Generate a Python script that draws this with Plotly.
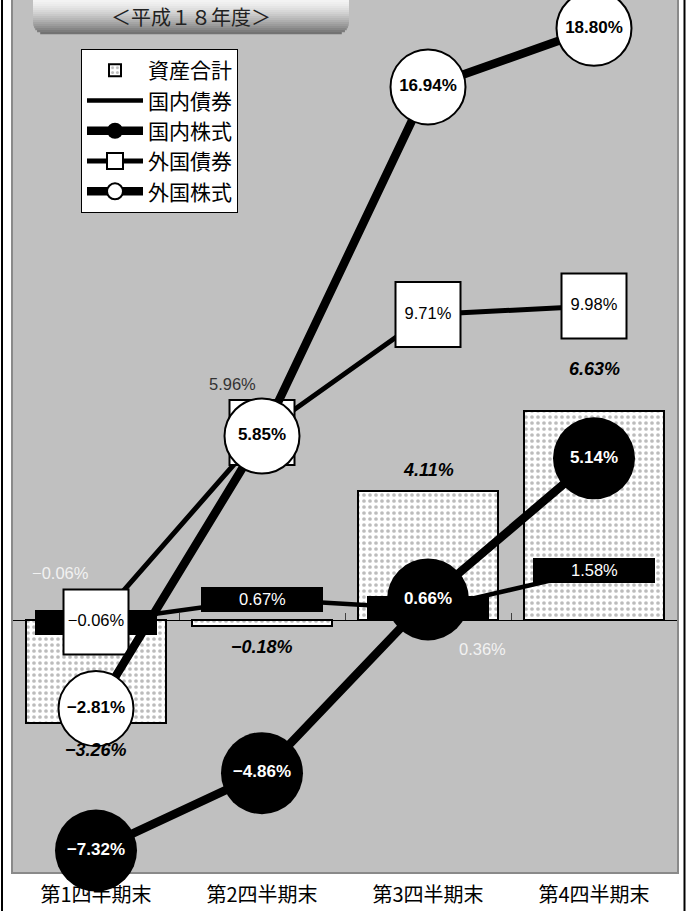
import math
import plotly.graph_objects as go

# ---------------- data ----------------
categories = ["第1四半期末", "第2四半期末", "第3四半期末", "第4四半期末"]
total_assets = [-3.26, -0.18, 4.11, 6.63]      # 資産合計
dom_bonds = [-0.06, 0.67, 0.36, 1.58]          # 国内債券
dom_stocks = [-7.32, -4.86, 0.66, 5.14]        # 国内株式
for_bonds = [-0.06, 5.96, 9.71, 9.98]          # 外国債券
for_stocks = [-2.81, 5.85, 16.94, 18.80]       # 外国株式
series_names = ["資産合計", "国内債券", "国内株式", "外国債券", "外国株式"]
title_text = "＜平成１８年度＞"

# ---------------- style ----------------
W, H = 687, 911
ML, MR, MT, MB = 13, 10, 0, 39
PW, PH = W - ML - MR, H - MT - MB
Y_MIN, Y_MAX = -8.0, 19.7
PXU = PH / (Y_MAX - Y_MIN)          # pixels per data unit

NUM = "Liberation Sans, Arial, sans-serif"
JP = "Noto Sans CJK JP, Noto Sans CJK SC, sans-serif"
BG = "#c0c0c0"


def pct(v):
    return ("−" if v < 0 else "") + f"{abs(v):.2f}%"


def px2x(px):
    return (px - ML) / PW


def py2y(py):
    return (H - MB - py) / PH


fig = go.Figure()

# 資産合計 bars
fig.add_trace(go.Bar(
    x=categories, y=total_assets, name=series_names[0], width=0.84,
    marker=dict(color="white", line=dict(color="black", width=2),
                pattern=dict(shape=".", fgcolor="#7a7a7a", bgcolor="white",
                             size=6, solidity=0.3)),
    legendrank=1, legendgroup="g1", hoverinfo="skip"))

# black label boxes for 国内債券
box_h = 25 / PXU
fig.add_trace(go.Bar(
    x=categories, y=[box_h] * len(dom_bonds),
    base=[v - box_h / 2 for v in dom_bonds], width=0.735,
    marker=dict(color="black", line=dict(width=0)),
    showlegend=False, legendgroup="g2", hoverinfo="skip"))

# 国内債券 line
fig.add_trace(go.Scatter(
    x=categories, y=dom_bonds, mode="lines", name=series_names[1],
    line=dict(color="black", width=4.5), cliponaxis=False,
    legendrank=2, legendgroup="g2", hoverinfo="skip"))

# 国内株式
fig.add_trace(go.Scatter(
    x=categories, y=dom_stocks, mode="lines+markers", name=series_names[2],
    line=dict(color="black", width=8.5),
    marker=dict(symbol="circle", size=82, color="black", line=dict(width=0)),
    cliponaxis=False, legendrank=3, legendgroup="g3", hoverinfo="skip"))
fig.add_trace(go.Scatter(
    x=categories, y=dom_stocks, mode="text", text=[pct(v) for v in dom_stocks],
    textposition="middle center",
    textfont=dict(family=NUM, size=17, color="white", weight="bold"),
    cliponaxis=False, showlegend=False, legendgroup="g3", hoverinfo="skip"))

# 外国債券
fig.add_trace(go.Scatter(
    x=categories, y=for_bonds, mode="lines+markers", name=series_names[3],
    line=dict(color="black", width=5),
    marker=dict(symbol="square", size=65, color="white",
                line=dict(color="black", width=2)),
    cliponaxis=False, legendrank=4, legendgroup="g4", hoverinfo="skip"))
fb_inside = [pct(v) for v in for_bonds]
fb_inside[1] = ""   # hidden behind the 外国株式 circle; shown as annotation
fig.add_trace(go.Scatter(
    x=categories, y=for_bonds, mode="text", text=fb_inside,
    textposition="middle center",
    textfont=dict(family=NUM, size=16.5, color="black"),
    cliponaxis=False, showlegend=False, legendgroup="g4", hoverinfo="skip"))

# 外国株式
fig.add_trace(go.Scatter(
    x=categories, y=for_stocks, mode="lines+markers", name=series_names[4],
    line=dict(color="black", width=8.5),
    marker=dict(symbol="circle", size=75, color="white",
                line=dict(color="black", width=2)),
    cliponaxis=False, legendrank=5, legendgroup="g5", hoverinfo="skip"))
fig.add_trace(go.Scatter(
    x=categories, y=for_stocks, mode="text", text=[pct(v) for v in for_stocks],
    textposition="middle center",
    textfont=dict(family=NUM, size=17, color="black", weight="bold"),
    cliponaxis=False, showlegend=False, legendgroup="g5", hoverinfo="skip"))

# empty trace carrying the zero-line axis
fig.add_trace(go.Scatter(x=[], y=[], xaxis="x2", showlegend=False,
                         hoverinfo="skip"))

annotations = []
# 資産合計 labels
ta_shift = [-27, -21, 21, 42]
for c, v, s in zip(categories, total_assets, ta_shift):
    annotations.append(dict(
        x=c, y=v, text=pct(v), showarrow=False, yshift=s,
        font=dict(family=NUM, size=18, color="black", weight="bold",
                  style="italic")))
# 国内債券 labels
db_shift = [(-36, 49, "#f2f2f2"), (0, 0, "white"), (54, -40, "#f2f2f2"),
            (0, 0, "white")]
for c, v, (xs, ys, col) in zip(categories, dom_bonds, db_shift):
    annotations.append(dict(
        x=c, y=v, text=pct(v), showarrow=False, xshift=xs, yshift=ys,
        font=dict(family=NUM, size=16.5, color=col)))
# 外国債券 Q2 label
annotations.append(dict(
    x=categories[1], y=for_bonds[1], text=pct(for_bonds[1]), showarrow=False,
    xshift=-30, yshift=49, font=dict(family=NUM, size=16.5, color="#333333")))
# title
annotations.append(dict(
    xref="paper", yref="paper", x=px2x(191), y=py2y(16), text=title_text,
    xanchor="center", yanchor="middle",
    showarrow=False, font=dict(family=JP, size=20, color="#222222")))

shapes = []
# title box gradient with rounded bottom corners
TB_X0, TB_X1, TB_Y1, R = 33, 349, 34, 12
step = 2
for i in range(TB_Y1 // step):
    ya, yb = i * step, (i + 1) * step
    ym = (ya + yb) / 2
    inset = 0.0
    if ym > TB_Y1 - R:
        d = ym - (TB_Y1 - R)
        inset = R - math.sqrt(max(R * R - d * d, 0))
    t = ym / TB_Y1
    g = int(round(244 - (244 - 108) * t ** 1.4))
    col = f"rgb({g},{g},{g})"
    shapes.append(dict(type="rect", xref="paper", yref="paper",
                       x0=px2x(TB_X0 + inset), x1=px2x(TB_X1 - inset),
                       y0=py2y(yb + 0.3), y1=py2y(ya),
                       fillcolor=col, line=dict(width=0)))
# outer frame
for xp in (2, 684.5):
    shapes.append(dict(type="line", xref="paper", yref="paper",
                       x0=px2x(xp), x1=px2x(xp), y0=py2y(H), y1=1.0,
                       line=dict(color="black", width=2)))

zero_pos = (0 - Y_MIN) / (Y_MAX - Y_MIN)

fig.update_layout(
    width=W, height=H,
    margin=dict(l=ML, r=MR, t=MT, b=MB, autoexpand=False),
    paper_bgcolor="white", plot_bgcolor=BG,
    barmode="overlay", bargap=0,
    font=dict(family=JP, color="black"),
    showlegend=True,
    legend=dict(x=px2x(81), y=py2y(49), xanchor="left", yanchor="top",
                bgcolor="white", bordercolor="black", borderwidth=1,
                font=dict(family=JP, size=21, color="black"),
                itemwidth=56, tracegroupgap=0, traceorder="grouped",
                itemclick=False, itemdoubleclick=False),
    xaxis=dict(type="category", categoryorder="array",
               categoryarray=categories, range=[-0.5, 3.5],
               showline=True, linecolor="#8a8a8a", linewidth=2,
               ticks="", showgrid=False, zeroline=False,
               tickfont=dict(family=JP, size=20, color="black"),
               ticklabelstandoff=4, layer="below traces",
               automargin=False, fixedrange=True),
    xaxis2=dict(overlaying="x", anchor="free", position=zero_pos,
                type="category", categoryorder="array",
                categoryarray=categories, range=[-0.5, 3.5],
                showline=True, linecolor="black", linewidth=1,
                ticks="inside", tickson="boundaries", ticklen=7,
                tickcolor="#404040", tickwidth=1, showticklabels=False,
                showgrid=False, zeroline=False, layer="below traces",
                fixedrange=True),
    yaxis=dict(range=[Y_MIN, Y_MAX], showline=True, mirror=True,
               linecolor="#8a8a8a", linewidth=2, showticklabels=False,
               ticks="", showgrid=False, zeroline=False,
               layer="below traces", automargin=False, fixedrange=True),
    annotations=annotations,
    shapes=shapes,
)

fig.write_html("out.html",
               config={"displayModeBar": False},
               post_script="document.body.style.margin='0';"
                           "document.body.style.padding='0';")
